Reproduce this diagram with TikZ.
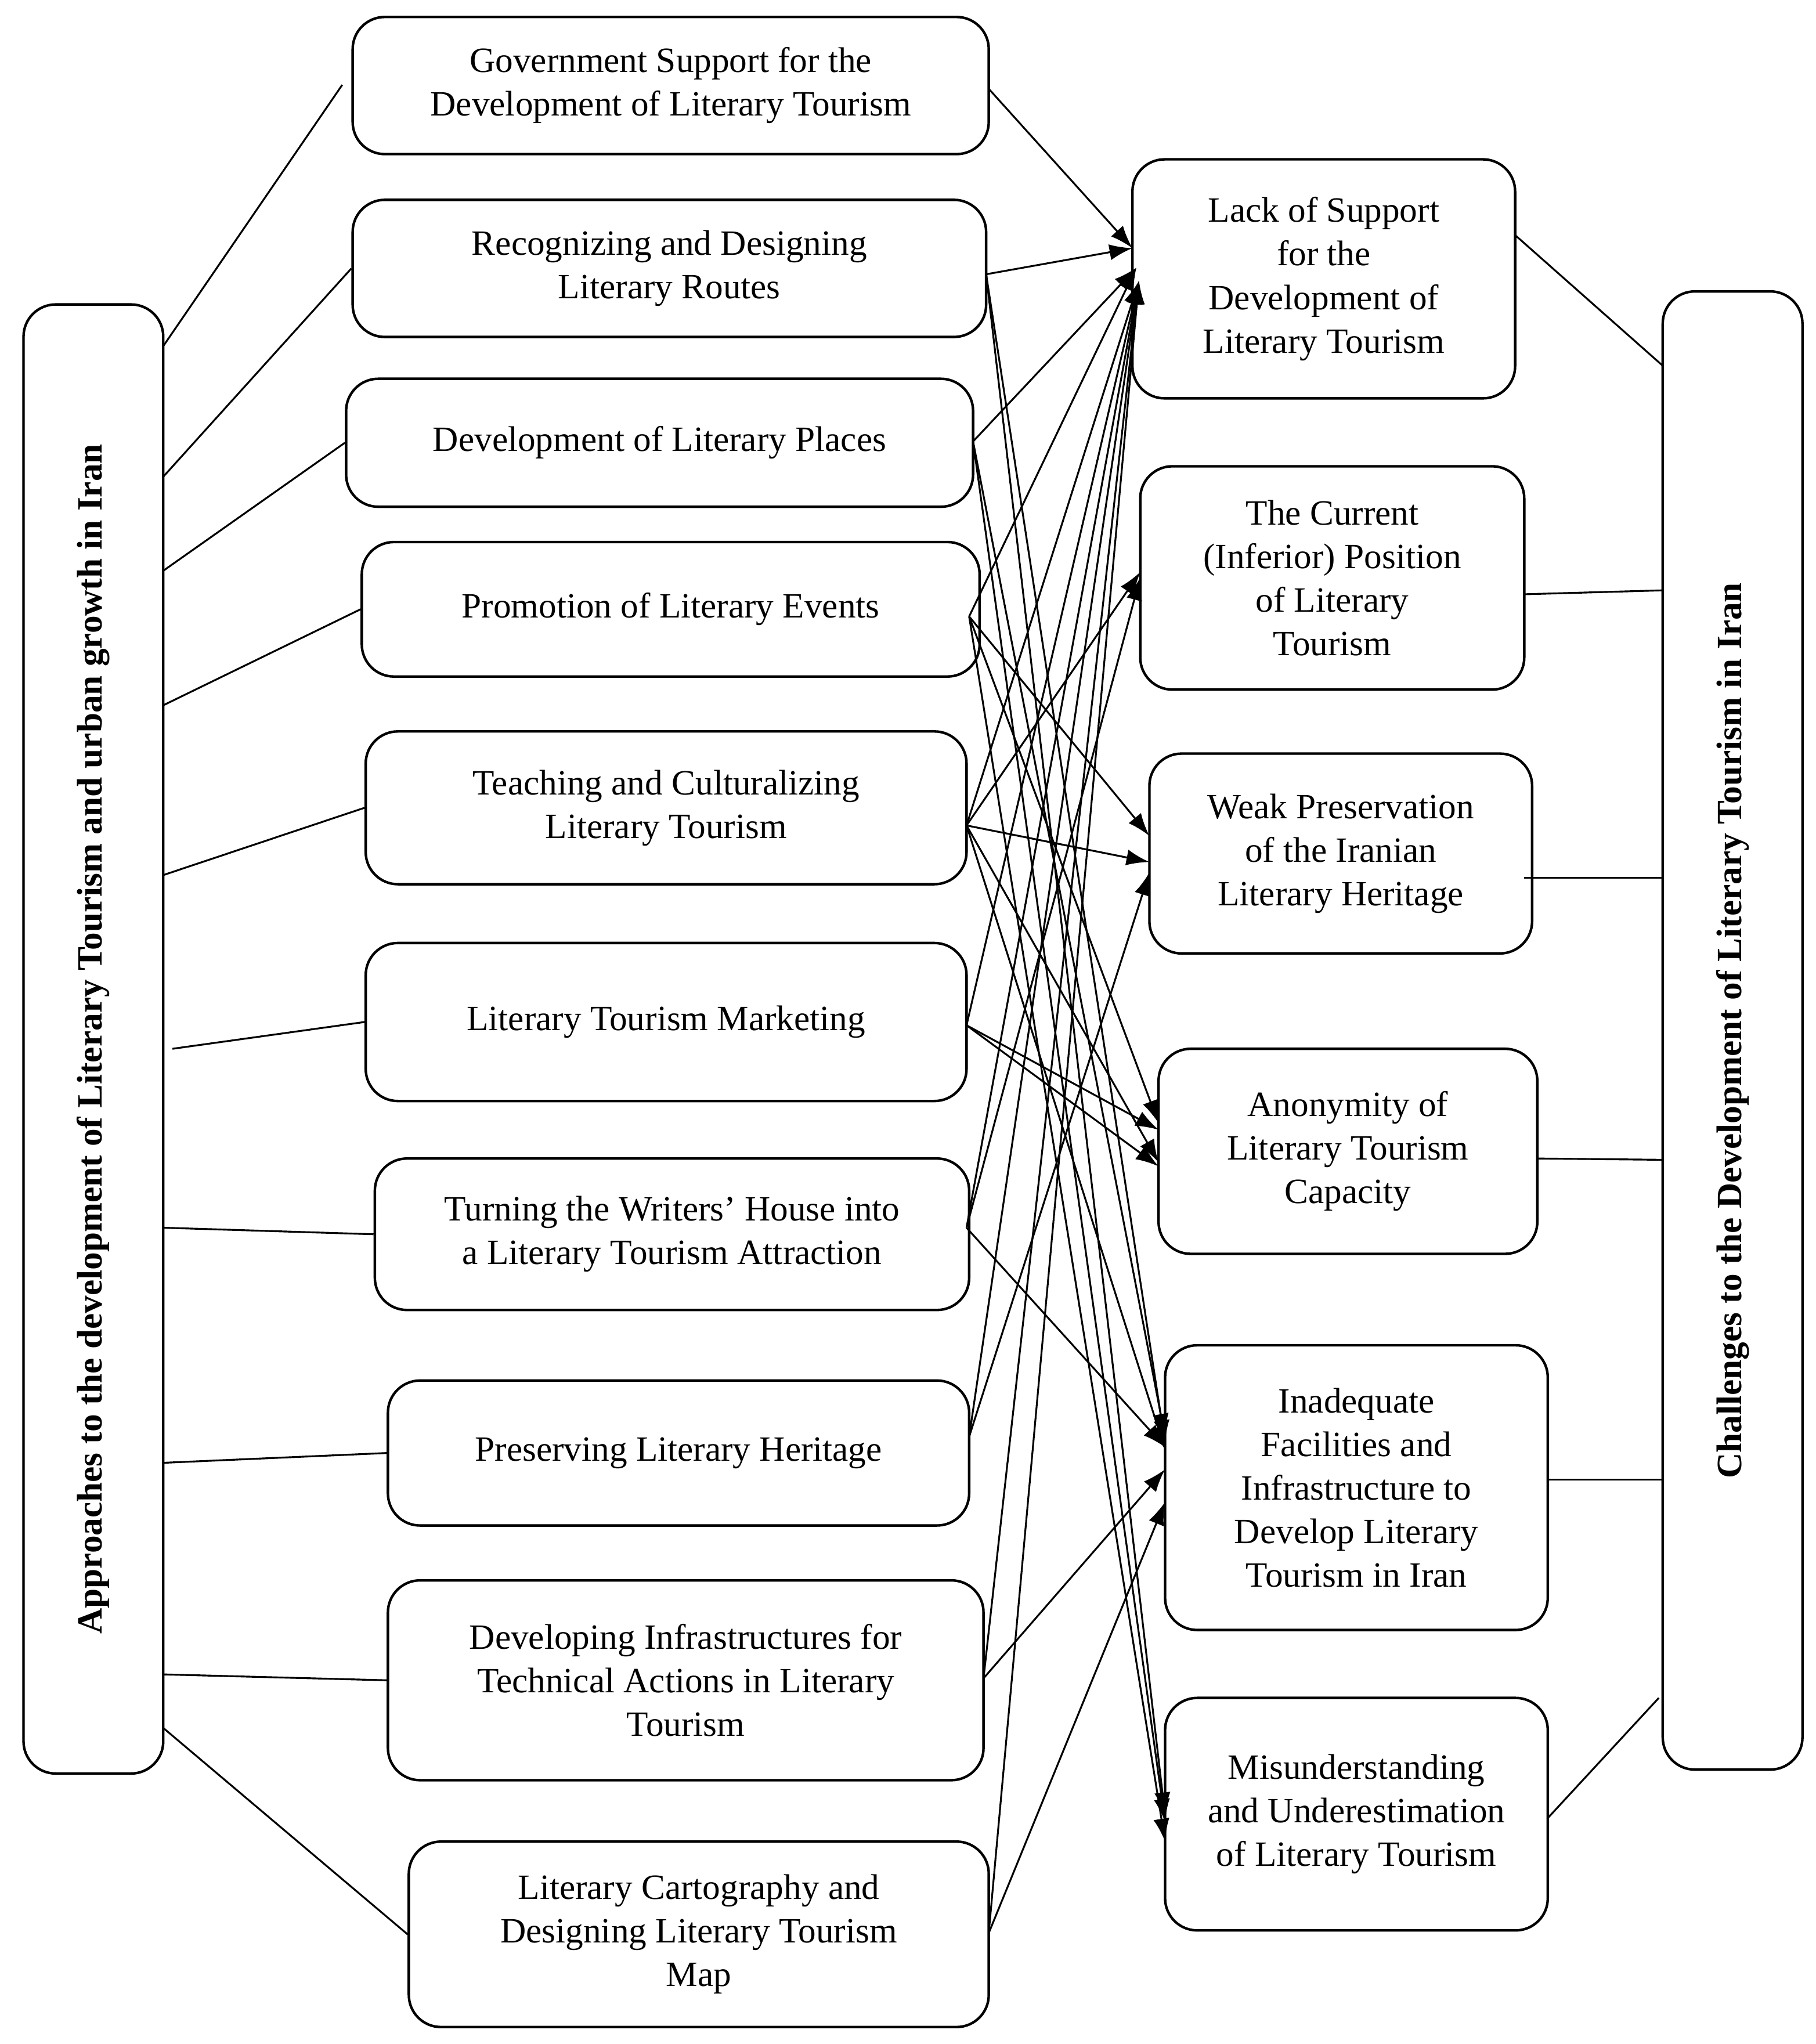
\documentclass[tikz,border=0pt]{standalone}
\usepackage{fontspec}
\setmainfont{Liberation Serif}
\usetikzlibrary{arrows.meta}
\begin{document}
\begin{tikzpicture}[x=0.02cm,y=-0.02cm,
 box/.style={draw,rounded corners=14,line width=1.1pt,align=center,font=\fontsize{15.5}{19}\selectfont,inner sep=0pt},
 ln/.style={line width=0.8pt},
 ar/.style={line width=0.8pt,-{Latex[length=10pt,width=7pt]}}]
\useasboundingbox (0,0) rectangle (1390,1565);
\newcommand\bx[6]{\node[box,minimum width={(#3-#2)*0.02cm},minimum height={(#5-#4)*0.02cm}] (#1) at ({(#2+#3)/2},{(#4+#5)/2}) {#6};}
\bx{L1}{270}{757}{13}{118}{Government Support for the\\Development of Literary Tourism}
\bx{L2}{270}{755}{153}{258}{Recognizing and Designing\\Literary Routes}
\bx{L3}{265}{745}{290}{388}{Development of Literary Places}
\bx{L4}{277}{750}{415}{518}{Promotion of Literary Events}
\bx{L5}{280}{740}{560}{677}{Teaching and Culturalizing\\Literary Tourism}
\bx{L6}{280}{740}{722}{843}{Literary Tourism Marketing}
\bx{L7}{287}{742}{887}{1003}{Turning the Writers' House into\\a Literary Tourism Attraction}
\bx{L8}{297}{742}{1057}{1168}{Preserving Literary Heritage}
\bx{L9}{297}{753}{1210}{1363}{Developing Infrastructures for\\Technical Actions in Literary\\Tourism}
\bx{L10}{313}{757}{1410}{1552}{Literary Cartography and\\Designing Literary Tourism\\Map}
\bx{R1}{867}{1160}{122}{305}{Lack of Support\\for the\\Development of\\Literary Tourism}
\bx{R2}{873}{1167}{357}{528}{The Current\\(Inferior) Position\\of Literary\\Tourism}
\bx{R3}{880}{1173}{577}{730}{Weak Preservation\\of the Iranian\\Literary Heritage}
\bx{R4}{887}{1177}{803}{960}{Anonymity of\\Literary Tourism\\Capacity}
\bx{R5}{892}{1185}{1030}{1248}{Inadequate\\Facilities and\\Infrastructure to\\Develop Literary\\Tourism in Iran}
\bx{R6}{892}{1185}{1300}{1478}{Misunderstanding\\and Underestimation\\of Literary Tourism}
\node[box,minimum width=2.14cm,minimum height=22.5cm] (LB) at (71.5,795.5) {};
\node[rotate=90,font=\bfseries\fontsize{15.5}{19}\selectfont] at (LB.center) {Approaches to the development of Literary Tourism and urban growth in Iran};
\node[box,minimum width=2.14cm,minimum height=22.64cm] (RB) at (1326.5,789) {};
\node[rotate=90,font=\bfseries\fontsize{15.5}{19}\selectfont] at (RB.center) {Challenges to the Development of Literary Tourism in Iran};
% left bus
\draw[ln] (125,265)--(262,65);
\draw[ln] (125,365)--(L2.west);
\draw[ln] (125,437)--(L3.west);
\draw[ln] (125,540)--(L4.west);
\draw[ln] (125,670)--(L5.west);
\draw[ln] (132,803)--(L6.west);
\draw[ln] (125,940)--(L7.west);
\draw[ln] (125,1120)--(L8.west);
\draw[ln] (125,1282)--(L9.west);
\draw[ln] (125,1323)--(L10.west);
% right bus
\draw[ln] (1160,180)--(1273,280);
\draw[ln] (1167,455)--(1273,452);
\draw[ln] (1167,672)--(1273,672);
\draw[ln] (1177,887)--(1273,888);
\draw[ln] (1185,1133)--(1273,1133);
\draw[ln] (1185,1392)--(1270,1300);
% arrows to R1
\coordinate (r1a) at (867,190); \coordinate (r1b) at (870,205); \coordinate (r1c) at (872,215);
\draw[ar] (757,68)--(r1a);
\draw[ar] (755,210)--(r1a);
\draw[ar] (745,338)--(r1b);
\draw[ar] (742,472)--(r1b);
\draw[ar] (740,632)--(r1c);
\draw[ar] (740,785)--(r1c);
\draw[ar] (740,940)--(r1c);
\draw[ar] (742,1100)--(r1c);
\draw[ar] (753,1285)--(r1c);
\draw[ar] (757,1480)--(r1c);
% R2
\draw[ar] (740,632)--(873,438);
\draw[ar] (740,940)--(873,442);
% R3
\draw[ar] (742,472)--(880,640);
\draw[ar] (740,632)--(880,660);
\draw[ar] (742,1100)--(880,668);
% R4
\draw[ar] (742,472)--(887,860);
\draw[ar] (740,785)--(887,865);
\draw[ar] (740,785)--(887,893);
\draw[ar] (740,632)--(887,890);
% R5
\draw[ar] (755,210)--(892,1105);
\draw[ar] (745,338)--(892,1100);
\draw[ar] (740,632)--(892,1110);
\draw[ar] (740,940)--(892,1108);
\draw[ar] (753,1285)--(892,1125);
\draw[ar] (757,1480)--(892,1150);
% R6
\draw[ar] (755,210)--(892,1390);
\draw[ar] (745,338)--(892,1395);
\draw[ar] (742,472)--(892,1410);
\end{tikzpicture}
\end{document}
